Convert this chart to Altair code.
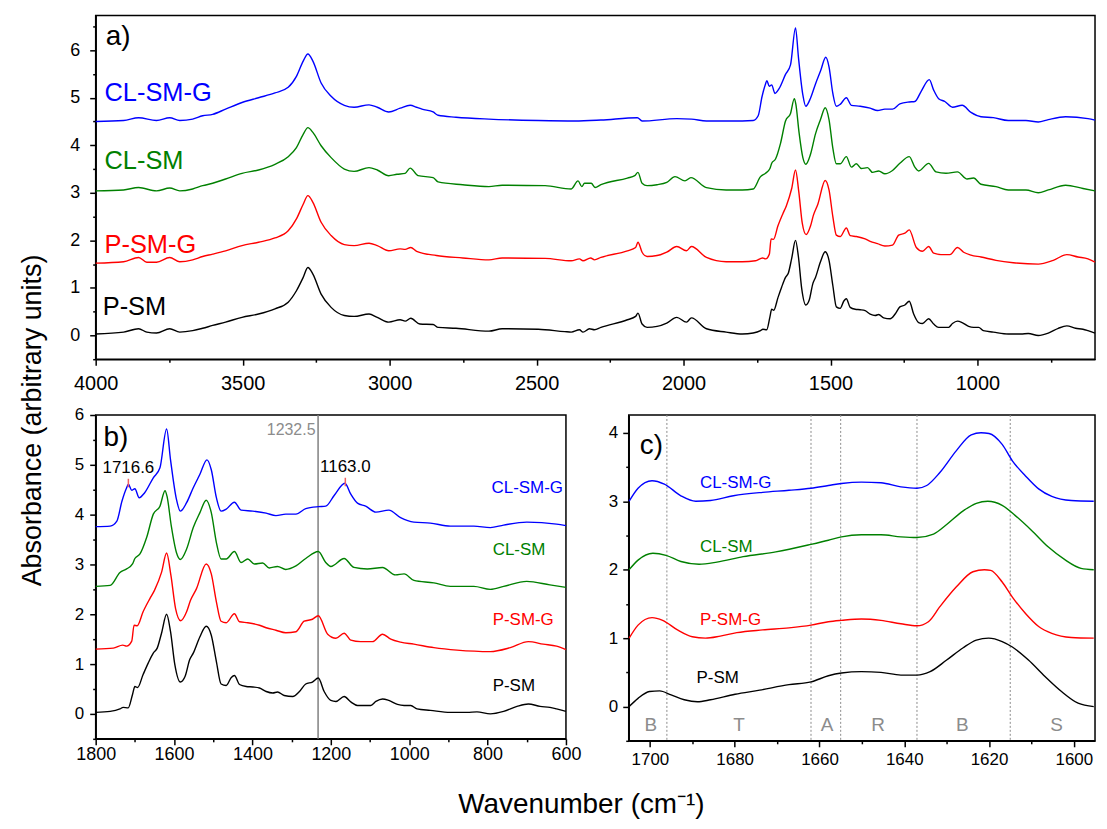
import altair as alt
import pandas as pd

FONT = "Liberation Sans"
SAMPLES = ["P-SM", "P-SM-G", "CL-SM", "CL-SM-G"]
COLORS = ["#000000", "#ff0000", "#008000", "#0000ff"]
OFFSET_A = [0.0, 1.5, 3.0, 4.5]
OFFSET_B = [0.0, 1.25, 2.5, 3.75]
OFFSET_C = [0.0, 1.0, 2.0, 3.0]

# ---- full-range spectra (raw absorbance, before vertical offset) ----
PSM_WN = [4000, 3905, 3854, 3826, 3793, 3748, 3714, 3670, 3636, 3602, 3558, 3502, 3446, 3390, 3345, 3317, 3294, 3278,
          3261, 3233, 3199, 3154, 3121, 3070, 3042, 3003, 2964, 2947, 2928, 2897, 2852, 2835, 2774, 2662, 2617, 2494,
          2404, 2382, 2354, 2342, 2320, 2303, 2281, 2191, 2163, 2155, 2141, 2124, 2090, 2057, 2023, 1990, 1973, 1922,
          1855, 1800, 1763, 1738, 1730, 1717, 1706, 1700, 1693, 1679, 1666, 1653, 1643, 1632, 1619, 1609, 1598, 1584,
          1572, 1560, 1551, 1534, 1518, 1505, 1492, 1480, 1467, 1454, 1446, 1433, 1416, 1399, 1382, 1365, 1348, 1336,
          1319, 1297, 1280, 1264, 1247, 1232, 1217, 1200, 1187, 1166, 1149, 1132, 1098, 1085, 1068, 1052, 1030, 1013,
          996, 980, 946, 895, 852, 827, 793, 759, 725, 696, 666, 641, 624, 600]
PSM_ABS = [0.03, 0.07, 0.14, 0.07, 0.05, 0.14, 0.07, 0.10, 0.15, 0.21, 0.28, 0.38, 0.45, 0.56, 0.70, 0.94, 1.22, 1.43,
           1.29, 0.87, 0.59, 0.42, 0.40, 0.45, 0.38, 0.28, 0.33, 0.30, 0.36, 0.24, 0.23, 0.17, 0.15, 0.09, 0.14, 0.13,
           0.08, 0.07, 0.12, 0.07, 0.14, 0.12, 0.17, 0.33, 0.40, 0.47, 0.24, 0.17, 0.19, 0.26, 0.38, 0.28, 0.37, 0.14,
           0.07, 0.03, 0.05, 0.10, 0.13, 0.12, 0.39, 0.55, 0.53, 0.79, 1.02, 1.22, 1.32, 1.62, 2.00, 1.65, 0.99, 0.64,
           0.75, 1.09, 1.22, 1.55, 1.76, 1.58, 1.05, 0.60, 0.57, 0.73, 0.77, 0.59, 0.55, 0.54, 0.52, 0.45, 0.42, 0.44,
           0.37, 0.35, 0.45, 0.60, 0.64, 0.72, 0.45, 0.27, 0.25, 0.35, 0.24, 0.17, 0.17, 0.25, 0.30, 0.27, 0.19, 0.17,
           0.17, 0.10, 0.07, 0.03, 0.03, 0.04, 0.00, 0.05, 0.15, 0.20, 0.15, 0.13, 0.10, 0.05]

PSMG_WN = [4000, 3905, 3854, 3826, 3793, 3748, 3714, 3670, 3636, 3602, 3558, 3502, 3446, 3390, 3345, 3317, 3294, 3278,
           3261, 3233, 3199, 3154, 3121, 3070, 3042, 3003, 2964, 2947, 2928, 2908, 2841, 2751, 2662, 2617, 2471, 2382,
           2354, 2342, 2316, 2303, 2281, 2191, 2163, 2155, 2141, 2124, 2090, 2057, 2023, 1990, 1973, 1922, 1855, 1800,
           1755, 1731, 1721, 1708, 1702, 1694, 1679, 1662, 1650, 1632, 1619, 1608, 1596, 1583, 1568, 1558, 1543, 1518,
           1505, 1492, 1480, 1467, 1446, 1433, 1412, 1382, 1365, 1340, 1315, 1289, 1268, 1247, 1232, 1208, 1187, 1166,
           1149, 1124, 1094, 1068, 1047, 1022, 988, 937, 878, 793, 742, 696, 658, 624, 600]
PSMG_ABS = [0.02, 0.05, 0.14, 0.04, 0.04, 0.14, 0.05, 0.09, 0.16, 0.21, 0.28, 0.39, 0.46, 0.55, 0.70, 0.95, 1.26, 1.44,
            1.30, 0.88, 0.60, 0.41, 0.39, 0.44, 0.39, 0.28, 0.32, 0.31, 0.35, 0.27, 0.18, 0.13, 0.09, 0.13, 0.12, 0.07,
            0.11, 0.07, 0.13, 0.09, 0.14, 0.28, 0.35, 0.46, 0.25, 0.16, 0.18, 0.25, 0.37, 0.28, 0.37, 0.14, 0.05, 0.05,
            0.07, 0.13, 0.11, 0.21, 0.53, 0.52, 0.80, 1.06, 1.23, 1.59, 1.98, 1.53, 0.86, 0.62, 0.80, 1.03, 1.26, 1.76,
            1.56, 1.00, 0.61, 0.58, 0.76, 0.60, 0.58, 0.53, 0.48, 0.43, 0.38, 0.40, 0.61, 0.65, 0.72, 0.35, 0.27, 0.37,
            0.23, 0.20, 0.20, 0.35, 0.25, 0.19, 0.15, 0.08, 0.03, 0.00, 0.08, 0.20, 0.15, 0.11, 0.04]

CLSM_WN = [4000, 3905, 3854, 3793, 3748, 3714, 3670, 3636, 3602, 3558, 3502, 3446, 3390, 3345, 3317, 3294, 3278, 3261,
           3233, 3199, 3154, 3121, 3070, 3042, 3003, 2975, 2947, 2930, 2903, 2852, 2835, 2751, 2662, 2617, 2471, 2382,
           2359, 2346, 2337, 2314, 2301, 2281, 2191, 2166, 2155, 2141, 2124, 2090, 2057, 2029, 1995, 1975, 1922, 1855,
           1800, 1763, 1738, 1721, 1706, 1700, 1687, 1670, 1653, 1636, 1623, 1618, 1607, 1594, 1584, 1568, 1551, 1534,
           1518, 1505, 1492, 1480, 1467, 1446, 1429, 1412, 1395, 1374, 1357, 1336, 1315, 1289, 1264, 1232, 1213, 1200,
           1166, 1141, 1107, 1068, 1035, 1013, 988, 937, 895, 835, 793, 759, 700, 641, 600]
CLSM_ABS = [0.04, 0.06, 0.11, 0.04, 0.10, 0.04, 0.08, 0.15, 0.20, 0.29, 0.41, 0.48, 0.60, 0.76, 0.95, 1.23, 1.37, 1.27,
            0.99, 0.74, 0.50, 0.45, 0.53, 0.48, 0.36, 0.39, 0.41, 0.52, 0.36, 0.32, 0.23, 0.17, 0.13, 0.16, 0.15, 0.08,
            0.25, 0.13, 0.20, 0.20, 0.11, 0.17, 0.31, 0.36, 0.43, 0.20, 0.15, 0.17, 0.22, 0.34, 0.25, 0.32, 0.11, 0.06,
            0.06, 0.08, 0.34, 0.41, 0.51, 0.62, 0.71, 1.04, 1.51, 1.67, 1.98, 1.87, 1.27, 0.74, 0.60, 0.81, 1.24, 1.54,
            1.79, 1.54, 0.94, 0.61, 0.61, 0.76, 0.54, 0.61, 0.51, 0.53, 0.43, 0.46, 0.40, 0.47, 0.62, 0.76, 0.54, 0.46,
            0.62, 0.44, 0.41, 0.44, 0.29, 0.31, 0.18, 0.13, 0.06, 0.06, 0.00, 0.06, 0.16, 0.09, 0.04]

CLSMG_WN = [4000, 3905, 3854, 3793, 3748, 3714, 3670, 3636, 3602, 3558, 3502, 3446, 3390, 3345, 3317, 3294, 3278, 3261,
            3233, 3199, 3154, 3121, 3070, 3042, 3003, 2964, 2930, 2908, 2890, 2852, 2835, 2774, 2662, 2494, 2370, 2281,
            2157, 2141, 2023, 1973, 1922, 1855, 1800, 1763, 1746, 1733, 1721, 1716.6, 1708, 1700, 1689, 1675, 1653,
            1636, 1619, 1609, 1594, 1584, 1568, 1551, 1534, 1516, 1505, 1492, 1480, 1467, 1446, 1429, 1399, 1365, 1340,
            1315, 1289, 1264, 1232, 1213, 1191, 1164, 1149, 1132, 1111, 1085, 1052, 1022, 988, 946, 895, 835, 793, 759,
            700, 624, 600]
CLSMG_ABS = [0.00, 0.02, 0.08, 0.02, 0.08, 0.02, 0.05, 0.12, 0.15, 0.26, 0.40, 0.50, 0.60, 0.72, 0.95, 1.27, 1.42, 1.27,
             0.81, 0.53, 0.34, 0.30, 0.35, 0.30, 0.20, 0.28, 0.34, 0.30, 0.26, 0.20, 0.13, 0.09, 0.05, 0.02, 0.01, 0.03,
             0.08, 0.01, 0.06, 0.05, 0.01, 0.01, 0.01, 0.02, 0.12, 0.52, 0.79, 0.86, 0.74, 0.77, 0.59, 0.69, 0.99,
             1.19, 1.97, 1.35, 0.56, 0.32, 0.49, 0.79, 1.06, 1.35, 1.15, 0.59, 0.32, 0.36, 0.50, 0.34, 0.32, 0.28, 0.23,
             0.26, 0.26, 0.37, 0.41, 0.42, 0.64, 0.88, 0.66, 0.48, 0.42, 0.30, 0.34, 0.19, 0.10, 0.08, 0.02, 0.02, -0.01,
             0.04, 0.10, 0.06, 0.03]

WN = [PSM_WN, PSMG_WN, CLSM_WN, CLSMG_WN]
ABS = [PSM_ABS, PSMG_ABS, CLSM_ABS, CLSMG_ABS]

# ---- panel c: amide I band (raw, before offset) ----
C_PSM_WN = [1704.9, 1702.8, 1700.1, 1697.7, 1695.0, 1691.9, 1688.8, 1685.7, 1679.9, 1674.1, 1667.2, 1662.0, 1657.9,
            1654.8, 1650.1, 1645.5, 1640.8, 1637.0, 1633.9, 1630.0, 1626.1, 1623.0, 1620.1, 1616.9, 1614.5, 1610.7,
            1606.8, 1602.9, 1599.0, 1595.3]
C_PSM = [0.00, 0.12, 0.22, 0.23, 0.17, 0.10, 0.07, 0.10, 0.18, 0.24, 0.32, 0.36, 0.45, 0.49, 0.51, 0.50, 0.46, 0.46,
         0.51, 0.68, 0.86, 0.97, 1.00, 0.95, 0.87, 0.68, 0.44, 0.22, 0.05, 0.00]
C_PSMG_WN = [1704.9, 1702.8, 1699.5, 1697.0, 1693.5, 1690.0, 1686.9, 1683.4, 1679.5, 1673.4, 1667.2, 1662.0, 1657.9,
             1654.8, 1650.1, 1645.5, 1640.8, 1637.0, 1634.3, 1631.6, 1627.7, 1623.8, 1621.1, 1619.6, 1616.9, 1614.5,
             1611.4, 1608.3, 1605.2, 1600.6, 1595.3]
C_PSMG = [0.00, 0.19, 0.30, 0.26, 0.12, 0.02, 0.00, 0.03, 0.08, 0.12, 0.15, 0.19, 0.24, 0.26, 0.28, 0.26, 0.21, 0.18,
          0.24, 0.46, 0.75, 0.97, 1.00, 0.99, 0.82, 0.60, 0.36, 0.17, 0.07, 0.01, 0.00]
C_CLSM_WN = [1704.9, 1702.8, 1699.3, 1696.2, 1692.7, 1688.4, 1684.2, 1678.0, 1670.3, 1662.0, 1657.9, 1654.8, 1650.1,
             1645.5, 1640.8, 1637.0, 1633.1, 1630.0, 1626.1, 1623.0, 1620.3, 1616.9, 1613.8, 1609.9, 1606.0, 1602.2,
             1598.3, 1595.3]
C_CLSM = [0.00, 0.14, 0.24, 0.21, 0.12, 0.08, 0.11, 0.19, 0.26, 0.37, 0.43, 0.48, 0.51, 0.51, 0.48, 0.47, 0.52, 0.66,
          0.86, 0.97, 1.00, 0.94, 0.79, 0.57, 0.33, 0.15, 0.02, 0.00]
C_CLSMG_WN = [1704.9, 1702.8, 1699.5, 1696.6, 1692.7, 1689.2, 1685.7, 1680.3, 1673.4, 1667.2, 1662.0, 1657.9, 1654.8,
              1650.1, 1645.5, 1640.8, 1637.0, 1634.7, 1631.6, 1627.7, 1624.2, 1621.9, 1620.0, 1616.9, 1614.5, 1611.4,
              1608.3, 1605.2, 1600.6, 1595.3]
C_CLSMG = [0.00, 0.19, 0.30, 0.25, 0.08, 0.00, 0.01, 0.08, 0.13, 0.16, 0.19, 0.23, 0.26, 0.28, 0.27, 0.21, 0.19, 0.23,
           0.42, 0.74, 0.97, 1.00, 0.99, 0.83, 0.59, 0.37, 0.18, 0.07, 0.01, 0.00]
C_WN = [C_PSM_WN, C_PSMG_WN, C_CLSM_WN, C_CLSMG_WN]
C_ABS = [C_PSM, C_PSMG, C_CLSM, C_CLSMG]

# ---- annotations ----
A_LABEL_Y = [0.59, 1.91, 3.67, 5.10]
B_LABEL_Y = [0.55, 1.89, 3.28, 4.54]
C_LABEL_Y = [0.41, 1.26, 2.33, 3.26]
PEAK_WN = [1716.6, 1163.0]
PEAK_TEXT = ["1716.6", "1163.0"]
PEAK_TEXT_Y = [4.93, 4.96]
PEAK_TICK_Y = [4.55, 4.57]
PEAK_TICK_Y2 = [4.72, 4.74]
REF_LINE = 1232.5
REGION_BOUNDS = [1696, 1662, 1655, 1637, 1615]
REGION_NAMES = ["B", "T", "A", "R", "B", "S"]
REGION_CENTERS = [1699.8, 1679, 1658.2, 1646.2, 1626.3, 1604.1]


def spectra(offsets, wn_lists, val_lists, wmax):
    rows = []
    for name, wns, vals, off in zip(SAMPLES, wn_lists, val_lists, offsets):
        for w, v in zip(wns, vals):
            if w <= wmax:
                rows.append({"sample": name, "wn": w, "val": v + off})
    return pd.DataFrame(rows)


def ticks(lo, hi, step):
    n = int(round((hi - lo) / step))
    return [lo + i * step for i in range(n + 1)]


class Panel:
    """Shared x/y channel factory for one panel: major axis, minor-tick axis, or no axis."""

    def __init__(self, xdom, xmaj, xmin, ydom, ymaj, ymin, xfs, yfs, xpad, ypad, xtitle=None, ytitle=None):
        self.xs = alt.Scale(domain=xdom, nice=False, zero=False)
        self.ys = alt.Scale(domain=ydom, nice=False, zero=False)
        xkw = dict(xtitle or {})
        ykw = dict(ytitle or {})
        self.xmajor = alt.Axis(values=xmaj, format="d", orient="bottom", tickSize=6, labelFontSize=xfs,
                               labelPadding=xpad, labelFlush=False, labelOverlap=False, grid=False, **xkw)
        self.ymajor = alt.Axis(values=ymaj, format="d", orient="left", tickSize=6, labelFontSize=yfs,
                               labelPadding=ypad, labelFlush=False, labelOverlap=False, grid=False, **ykw)
        self.xminor = alt.Axis(values=xmin, orient="bottom", tickSize=3, labels=False, domain=False, grid=False)
        self.yminor = alt.Axis(values=ymin, orient="left", tickSize=3, labels=False, domain=False, grid=False)
        self.xt = xkw.get("title")
        self.yt = ykw.get("title")

    def enc(self, kind, yfield="val"):
        if kind == "major":
            return (alt.X("wn:Q", scale=self.xs, axis=self.xmajor, title=self.xt),
                    alt.Y(f"{yfield}:Q", scale=self.ys, axis=self.ymajor, title=self.yt))
        if kind == "minor":
            return (alt.X("wn:Q", scale=self.xs, axis=self.xminor, title=None),
                    alt.Y(f"{yfield}:Q", scale=self.ys, axis=self.yminor, title=None))
        return (alt.X("wn:Q", scale=self.xs, axis=None, title=None),
                alt.Y(f"{yfield}:Q", scale=self.ys, axis=None, title=None))


color = alt.Color("sample:N", scale=alt.Scale(domain=SAMPLES, range=COLORS), legend=None)
tcolor = alt.Color("color:N", scale=None)
TITLE_STYLE = dict(titleAlign="center", titleBaseline="alphabetic", titleFontWeight="normal",
                   titleFont=FONT, titleColor="black")
LW = 1.4

# ---------------- panel a ----------------
pa = Panel([4000, 600], ticks(1000, 4000, 500), ticks(750, 3750, 500), [-0.5, 6.73], ticks(0, 6, 1),
           ticks(-0.5, 6.5, 1), 20, 18, 8, 10,
           ytitle=dict(title="Absorbance (arbitrary units)", titleX=-55, titleY=406, titleFontSize=27,
                       **TITLE_STYLE))
xa, ya = pa.enc("major")
xa_m, ya_m = pa.enc("minor")
xa_n, ya_n = pa.enc("none")
df_a = spectra(OFFSET_A, WN, ABS, 4000)
lines_a = alt.Chart(df_a).mark_line(strokeWidth=LW, interpolate="monotone").encode(
    x=xa, y=ya, color=color, detail="sample:N")
lab_a = pd.DataFrame({"wn": [3976, 3970, 3970, 3970], "val": A_LABEL_Y, "text": SAMPLES, "color": COLORS})
labels_a = alt.Chart(lab_a).mark_text(align="left", baseline="middle", fontSize=25.5, font=FONT).encode(
    x=xa_n, y=ya_n, text="text:N", color=tcolor)
tag_a = alt.Chart(pd.DataFrame({"wn": [3966], "val": [6.27], "text": ["a)"]})).mark_text(
    align="left", baseline="middle", fontSize=28, font=FONT, color="black").encode(x=xa_m, y=ya_m, text="text:N")
panel_a = alt.layer(lines_a, labels_a, tag_a).resolve_axis(x="independent", y="independent").properties(
    width=1003, height=345)

# ---------------- panel b ----------------
pb = Panel([1800, 600], ticks(600, 1800, 200), ticks(700, 1700, 200), [-0.5, 6.0], ticks(0, 6, 1),
           ticks(-0.5, 5.5, 1), 18, 17, 1, 6,
           xtitle=dict(title="Wavenumber (cm⁻¹)", titleX=487, titleY=74, titleFontSize=28, **TITLE_STYLE))
xb, yb = pb.enc("major")
xb_m, yb_m = pb.enc("minor")
xb_n, yb_n = pb.enc("none")
df_b = spectra(OFFSET_B, WN, ABS, 1800)
ref_b = alt.Chart(pd.DataFrame({"wn": [REF_LINE]})).mark_rule(color="#808080", strokeWidth=1.5).encode(x=xb_n)
lines_b = alt.Chart(df_b).mark_line(strokeWidth=LW, interpolate="monotone").encode(
    x=xb, y=yb, color=color, detail="sample:N")
peak_df = pd.DataFrame({"wn": PEAK_WN, "val": PEAK_TICK_Y, "val2": PEAK_TICK_Y2,
                        "tval": PEAK_TEXT_Y, "text": PEAK_TEXT})
peak_ticks = alt.Chart(peak_df).mark_rule(color="#f06060", strokeWidth=1.5).encode(
    x=xb_n, y=yb_n, y2="val2:Q")
peak_text = alt.Chart(peak_df).mark_text(align="center", baseline="middle", fontSize=17, font=FONT,
                                         color="black").encode(x=xb_n, y=pb.enc("none", "tval")[1], text="text:N")
ref_text = alt.Chart(pd.DataFrame({"wn": [1239], "val": [5.70], "text": [str(REF_LINE)]})).mark_text(
    align="right", baseline="middle", fontSize=16, font=FONT, color="#8c8c8c").encode(
    x=xb_n, y=yb_n, text="text:N")
lab_b = pd.DataFrame({"wn": [787, 787, 787, 790], "val": B_LABEL_Y, "text": SAMPLES, "color": COLORS})
labels_b = alt.Chart(lab_b).mark_text(align="left", baseline="middle", fontSize=17, font=FONT).encode(
    x=xb_n, y=yb_n, text="text:N", color=tcolor)
tag_b = alt.Chart(pd.DataFrame({"wn": [1780], "val": [5.54], "text": ["b)"]})).mark_text(
    align="left", baseline="middle", fontSize=28, font=FONT, color="black").encode(x=xb_m, y=yb_m, text="text:N")
panel_b = alt.layer(ref_b, lines_b, peak_ticks, peak_text, ref_text, labels_b, tag_b).resolve_axis(
    x="independent", y="independent").properties(width=472, height=325)

# ---------------- panel c ----------------
pc = Panel([1705, 1595], ticks(1600, 1700, 20), ticks(1610, 1690, 20), [-0.5, 4.26], ticks(0, 4, 1),
           ticks(-0.5, 3.5, 1), 17, 17, 5, 5)
xc, yc = pc.enc("major")
xc_m, yc_m = pc.enc("minor")
xc_n, yc_n = pc.enc("none")
df_c = spectra(OFFSET_C, C_WN, C_ABS, 1800)
bounds_c = alt.Chart(pd.DataFrame({"wn": REGION_BOUNDS})).mark_rule(
    color="#8c8c8c", strokeWidth=1, strokeDash=[2, 2]).encode(x=xc_n)
lines_c = alt.Chart(df_c).mark_line(strokeWidth=LW, interpolate="monotone").encode(
    x=xc, y=yc, color=color, detail="sample:N")
lab_c = pd.DataFrame({"wn": [1689.0, 1688.2, 1688.2, 1688.2], "val": C_LABEL_Y, "text": SAMPLES, "color": COLORS})
labels_c = alt.Chart(lab_c).mark_text(align="left", baseline="middle", fontSize=17, font=FONT).encode(
    x=xc_n, y=yc_n, text="text:N", color=tcolor)
reg_c = alt.Chart(pd.DataFrame({"wn": REGION_CENTERS, "val": [-0.27] * 6, "text": REGION_NAMES})).mark_text(
    align="center", baseline="middle", fontSize=19, font=FONT, color="#8c8c8c").encode(
    x=xc_n, y=yc_n, text="text:N")
tag_c = alt.Chart(pd.DataFrame({"wn": [1702.4], "val": [3.81], "text": ["c)"]})).mark_text(
    align="left", baseline="middle", fontSize=28, font=FONT, color="black").encode(x=xc_m, y=yc_m, text="text:N")
panel_c = alt.layer(bounds_c, lines_c, labels_c, reg_c, tag_c).resolve_axis(
    x="independent", y="independent").properties(width=468, height=327)

bottom = alt.hconcat(panel_b, panel_c, spacing=63, bounds="flush")
chart = alt.vconcat(panel_a, bottom, spacing=56, bounds="flush").properties(
    padding={"left": 10, "top": 5, "right": 0, "bottom": 0}
).configure(font=FONT).configure_view(stroke="black", strokeWidth=1.5).configure_axis(
    labelFont=FONT, labelColor="black", tickColor="black", tickWidth=1.5,
    domainColor="black", domainWidth=1.5
)

chart.save("out.html", embed_options={"renderer": "svg", "actions": False})
